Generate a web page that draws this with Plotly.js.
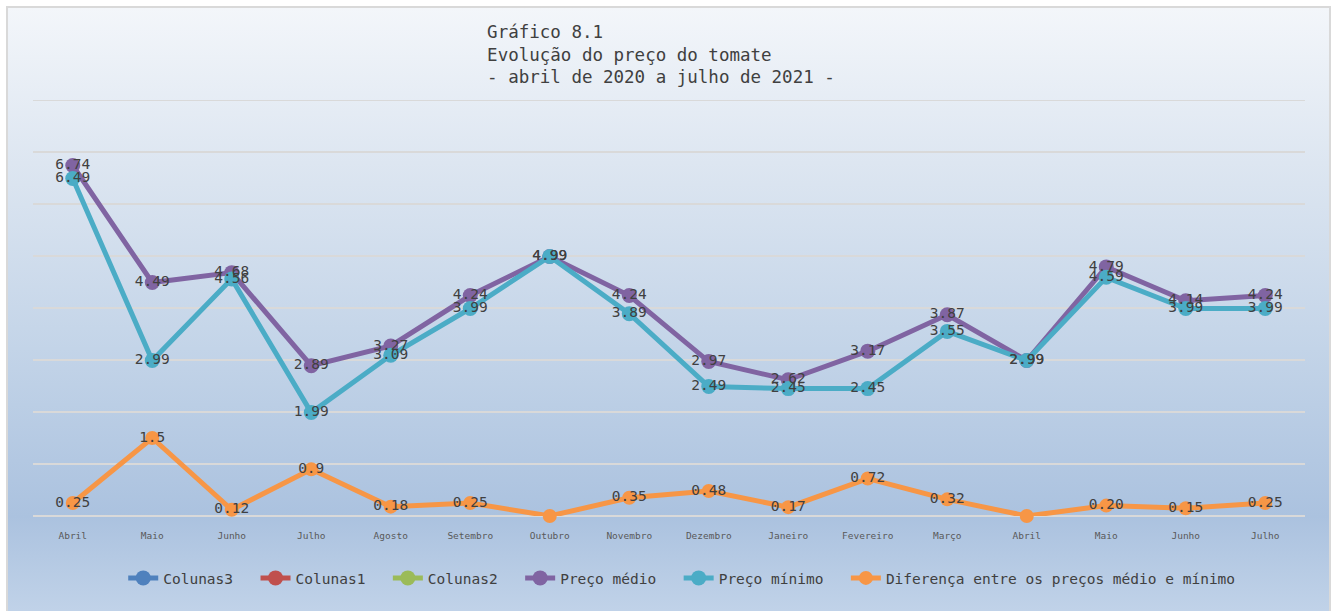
<!DOCTYPE html>
<html>
<head>
<meta charset="utf-8">
<script src="https://cdn.plot.ly/plotly-3.0.1.min.js"></script>
<style>
  html, body { margin: 0; padding: 0; background: #ffffff; width: 1335px; height: 611px; overflow: hidden; }
  #bg { position: absolute; left: 6px; top: 6px; width: 1321px; height: 620px;
        border: 2px solid #d9d9d9;
        background: linear-gradient(to bottom, #f3f6fa 0%, #dde6f1 25%, #c3d4e8 55%, #abc2df 82%, #c4d5ea 100%); }
  #chart { position: absolute; left: 0; top: 0; width: 1335px; height: 611px; }
</style>
</head>
<body>
<div id="bg"></div>
<div id="chart"></div>
<script>
const months = ["Abril","Maio","Junho","Julho","Agosto","Setembro","Outubro","Novembro","Dezembro","Janeiro","Fevereiro","Março","Abril","Maio","Junho","Julho"];
const precoMedio = [6.74, 4.49, 4.68, 2.89, 3.27, 4.24, 4.99, 4.24, 2.97, 2.62, 3.17, 3.87, 2.99, 4.79, 4.14, 4.24];
const precoMedioText = ["6.74","4.49","4.68","2.89","3.27","4.24","4.99","4.24","2.97","2.62","3.17","3.87","2.99","4.79","4.14","4.24"];
const precoMinimo = [6.49, 2.99, 4.56, 1.99, 3.09, 3.99, 4.99, 3.89, 2.49, 2.45, 2.45, 3.55, 2.99, 4.59, 3.99, 3.99];
const precoMinimoText = ["6.49","2.99","4.56","1.99","3.09","3.99","4.99","3.89","2.49","2.45","2.45","3.55","2.99","4.59","3.99","3.99"];
const diferenca = [0.25, 1.5, 0.12, 0.9, 0.18, 0.25, 0, 0.35, 0.48, 0.17, 0.72, 0.32, 0, 0.20, 0.15, 0.25];
const diferencaText = ["0.25","1.5","0.12","0.9","0.18","0.25","","0.35","0.48","0.17","0.72","0.32","","0.20","0.15","0.25"];
const yMax = 8;

const idx = months.map((m, i) => i);
const MONO = "DejaVu Sans Mono, monospace";
const TXT = "#404040";
const GAP = "\u00a0\u00a0";

function lineTrace(name, y, color, msize) {
  return {
    type: "scatter", mode: "lines+markers", name: name, x: idx, y: y,
    line: { color: color, width: 5 },
    marker: { color: color, size: msize },
    cliponaxis: false, hoverinfo: "skip"
  };
}
function emptyTrace(name, color) {
  return {
    type: "scatter", mode: "lines+markers", name: name, x: [null], y: [null],
    line: { color: color, width: 5 }, marker: { color: color, size: 15 }
  };
}
function textTrace(y, text) {
  return {
    type: "scatter", mode: "text", x: idx, y: y, text: text, showlegend: false,
    textposition: "middle center", textfont: { family: MONO, size: 14.5, color: TXT },
    cliponaxis: false, hoverinfo: "skip"
  };
}

const data = [
  emptyTrace("Colunas3" + GAP, "#4f81bd"),
  emptyTrace("Colunas1" + GAP, "#c0504d"),
  emptyTrace("Colunas2" + GAP, "#9bbb59"),
  lineTrace("Preço médio" + GAP, precoMedio, "#8064a2", 15),
  lineTrace("Preço mínimo" + GAP, precoMinimo, "#4bacc6", 15),
  lineTrace("Diferença entre os preços médio e mínimo", diferenca, "#f79646", 14),
  textTrace(precoMedio, precoMedioText),
  textTrace(precoMinimo, precoMinimoText),
  textTrace(diferenca, diferencaText)
];

const layout = {
  width: 1335, height: 611,
  paper_bgcolor: "rgba(0,0,0,0)", plot_bgcolor: "rgba(0,0,0,0)",
  margin: { l: 33, r: 30, t: 100, b: 95 },
  title: {
    text: "Gráfico 8.1<br>Evolução do preço do tomate<br>- abril de 2020 a julho de 2021 -",
    font: { family: MONO, size: 17.5, color: TXT },
    xref: "paper", x: 0.357, xanchor: "left",
    yref: "container", y: 0.938, yanchor: "top", align: "left"
  },
  xaxis: {
    tickmode: "array", tickvals: idx, ticktext: months,
    range: [-0.5, 15.5], showgrid: false, zeroline: false, showline: false,
    ticks: "outside", ticklen: 11, tickcolor: "rgba(0,0,0,0)",
    tickfont: { family: MONO, size: 9.5, color: "#595959" }, fixedrange: true
  },
  yaxis: {
    range: [0, yMax], dtick: 1, tick0: 0, showgrid: true, gridcolor: "#d9d9d9", gridwidth: 2,
    zeroline: true, zerolinecolor: "#d9d9d9", zerolinewidth: 2,
    showticklabels: false, ticks: "", fixedrange: true
  },
  shapes: [{
    type: "line", xref: "paper", x0: 0, x1: 1, yref: "y", y0: yMax, y1: yMax,
    line: { color: "#d9d9d9", width: 2 }, layer: "below"
  }],
  showlegend: true,
  legend: {
    orientation: "h", x: 0.51, xanchor: "center", y: -0.149, yanchor: "middle",
    font: { family: MONO, size: 14.5, color: TXT }, bgcolor: "rgba(0,0,0,0)",
    itemwidth: 30
  },
  hovermode: false
};

Plotly.newPlot("chart", data, layout, { displayModeBar: false, staticPlot: true });
</script>
</body>
</html>
